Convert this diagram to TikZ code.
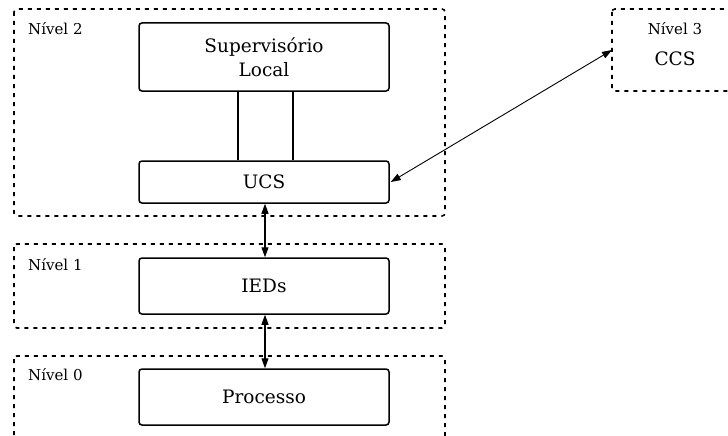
\documentclass[tikz,border=0pt]{standalone}
\usepackage{fontspec}
\setmainfont{DejaVu Serif}
\usetikzlibrary{arrows.meta}

\tikzset{
  level/.style={draw, line width=1.6pt, dash pattern=on 4pt off 5pt, rounded corners=3pt},
  unit/.style={draw, line width=1.5pt, rounded corners=3pt, minimum width=250pt,
               font=\fontsize{18.5}{24}\selectfont, align=center, inner sep=0pt},
  lvltext/.style={font=\fontsize{15}{18}\selectfont, anchor=west, inner sep=0pt},
  link/.style={line width=1.1pt, {Triangle[length=10pt,width=7pt]}-{Triangle[length=10pt,width=7pt]}},
}

\begin{document}
\begin{tikzpicture}[x=1pt, y=-1pt]
  \useasboundingbox (0,0) rectangle (728,436);
  \clip (0,0) rectangle (728,436);

  % level frames
  \draw[level] (14,9) rectangle (445,216);
  \draw[level] (14,244) rectangle (445,328);
  \draw[level] (14,356) rectangle (445,440);
  \draw[level] (612,9) rectangle (738,91);

  \node[lvltext] (l2) at (28,29) {Nível 2};
  \node[lvltext] (l1) at (28,265) {Nível 1};
  \node[lvltext] (l0) at (28,375) {Nível 0};
  \node[font=\fontsize{15}{18}\selectfont, inner sep=0pt] (l3) at (675,29) {Nível 3};
  \node[font=\fontsize{18.5}{24}\selectfont, inner sep=0pt] (ccs) at (675,59) {CCS};
  \coordinate (n3) at (612,50);

  % units
  \node[unit, minimum height=68pt] (sup) at (264,57) {Supervisório\\Local};
  \node[unit, minimum height=42pt] (ucs) at (264,182) {UCS};
  \node[unit, minimum height=56pt] (ieds) at (264,286) {IEDs};
  \node[unit, minimum height=56pt] (proc) at (264,397) {Processo};

  % double link between supervisory and UCS
  \draw[line width=1.5pt] ([xshift=-26pt]sup.south) -- ([xshift=-26pt]ucs.north);
  \draw[line width=1.5pt] ([xshift=29pt]sup.south) -- ([xshift=29pt]ucs.north);

  % communication links
  \draw[link] ([xshift=1pt]ucs.south) -- ([xshift=1pt]ieds.north);
  \draw[link] ([xshift=1pt]ieds.south) -- ([xshift=1pt]proc.north);
  \draw[link, line width=0.9pt] ([xshift=1pt]ucs.east) -- (n3);
\end{tikzpicture}
\end{document}
